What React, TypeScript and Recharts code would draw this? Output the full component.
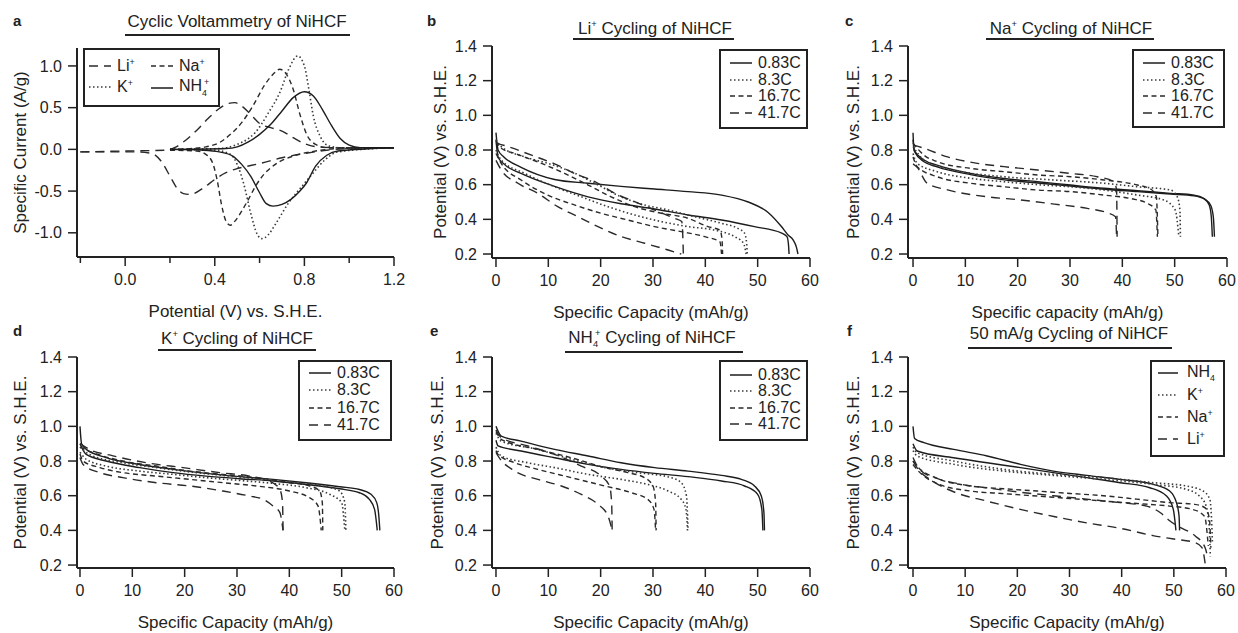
import React from "react";
import { LineChart, Line, XAxis, YAxis, Legend } from "recharts";

type Pt = [number, number];
type DashKey = "solid" | "dot" | "short" | "long";

// ---- a: cyclic voltammetry, [potential V, current A/g], each branch left -> right
const cvLiOx: Pt[] = [[-0.2, -0.03], [0, -0.02], [0.18, -0.01], [0.22, 0.02], [0.27, 0.11], [0.32, 0.23], [0.37, 0.37], [0.42, 0.49], [0.46, 0.55], [0.49, 0.56], [0.52, 0.52], [0.56, 0.42], [0.6, 0.31], [0.65, 0.26], [0.7, 0.22], [0.75, 0.14], [0.8, 0.07], [0.86, 0.03], [0.95, 0.02], [1.2, 0.02]];
const cvLiRed: Pt[] = [[-0.2, -0.03], [0.05, -0.03], [0.12, -0.05], [0.16, -0.14], [0.2, -0.32], [0.23, -0.46], [0.26, -0.53], [0.29, -0.54], [0.35, -0.46], [0.4, -0.36], [0.45, -0.28], [0.5, -0.23], [0.55, -0.2], [0.6, -0.17], [0.7, -0.1], [0.8, -0.05], [0.9, -0.01], [1.0, 0.01], [1.2, 0.02]];
const cvNaOx: Pt[] = [[0.2, 0], [0.3, 0.01], [0.36, 0.03], [0.42, 0.08], [0.47, 0.18], [0.52, 0.32], [0.57, 0.52], [0.62, 0.76], [0.66, 0.9], [0.69, 0.96], [0.72, 0.9], [0.75, 0.72], [0.78, 0.42], [0.81, 0.18], [0.85, 0.06], [0.9, 0.02], [1.2, 0.02]];
const cvNaRed: Pt[] = [[0.2, -0.01], [0.32, -0.02], [0.36, -0.06], [0.39, -0.16], [0.41, -0.36], [0.43, -0.66], [0.45, -0.86], [0.47, -0.91], [0.49, -0.86], [0.52, -0.74], [0.55, -0.6], [0.58, -0.45], [0.61, -0.33], [0.67, -0.18], [0.75, -0.08], [0.85, -0.02], [0.95, 0.01], [1.2, 0.02]];
const cvKOx: Pt[] = [[0.2, 0], [0.42, 0.01], [0.5, 0.06], [0.55, 0.13], [0.58, 0.2], [0.64, 0.44], [0.69, 0.68], [0.73, 0.96], [0.77, 1.12], [0.8, 1.0], [0.82, 0.72], [0.84, 0.4], [0.87, 0.16], [0.91, 0.04], [1.0, 0.01], [1.2, 0.02]];
const cvKRed: Pt[] = [[0.2, 0], [0.4, -0.01], [0.47, -0.06], [0.5, -0.18], [0.53, -0.42], [0.56, -0.76], [0.59, -1.02], [0.61, -1.07], [0.64, -1.02], [0.67, -0.9], [0.73, -0.64], [0.79, -0.44], [0.84, -0.28], [0.89, -0.13], [0.95, -0.03], [1.2, 0.02]];
const cvNh4Ox: Pt[] = [[0.2, 0], [0.45, 0.01], [0.5, 0.03], [0.55, 0.09], [0.6, 0.18], [0.65, 0.3], [0.7, 0.46], [0.75, 0.62], [0.8, 0.69], [0.84, 0.64], [0.88, 0.48], [0.92, 0.29], [0.96, 0.13], [1.0, 0.05], [1.05, 0.02], [1.2, 0.02]];
const cvNh4Red: Pt[] = [[0.2, 0], [0.35, -0.01], [0.42, -0.03], [0.48, -0.08], [0.52, -0.18], [0.56, -0.32], [0.6, -0.52], [0.63, -0.65], [0.66, -0.68], [0.7, -0.66], [0.74, -0.6], [0.78, -0.5], [0.81, -0.4], [0.85, -0.2], [0.9, -0.07], [0.95, -0.02], [1.2, 0.02]];

// ---- b: Li+ cycling, [capacity mAh/g, potential V]
const liC083Up: Pt[] = [[0, 0.9], [0.4, 0.8], [1.5, 0.76], [4.8, 0.7], [11.2, 0.63], [17.6, 0.608], [23.9, 0.59], [30.3, 0.575], [36.7, 0.56], [43.1, 0.54], [48.2, 0.5], [52, 0.44], [54.5, 0.36], [55.8, 0.31], [56.8, 0.28], [57.4, 0.24], [57.7, 0.2]];
const liC083Dn: Pt[] = [[0, 0.86], [0.4, 0.76], [1.5, 0.72], [4.8, 0.665], [11.2, 0.59], [17.6, 0.53], [23.9, 0.49], [30.3, 0.46], [36.7, 0.425], [43.1, 0.396], [49.4, 0.358], [54.5, 0.322], [55.6, 0.3], [55.9, 0.25], [56, 0.2]];
const liC8Up: Pt[] = [[0, 0.86], [1, 0.82], [5.5, 0.76], [9.9, 0.723], [14.4, 0.675], [18.9, 0.608], [23.9, 0.53], [28.4, 0.483], [32.9, 0.454], [38, 0.415], [43.1, 0.377], [46.2, 0.348], [47.5, 0.32], [47.9, 0.26], [48, 0.2]];
const liC8Dn: Pt[] = [[0, 0.8], [1, 0.742], [5.5, 0.665], [11.2, 0.588], [16.3, 0.53], [21.4, 0.473], [26.5, 0.425], [31.6, 0.387], [36.7, 0.358], [41.8, 0.338], [45.6, 0.3], [47.3, 0.262], [47.8, 0.2]];
const liC16Up: Pt[] = [[0, 0.85], [1, 0.81], [3.6, 0.78], [8.7, 0.723], [13.1, 0.665], [17.6, 0.598], [22, 0.53], [26.5, 0.473], [31.6, 0.435], [36.7, 0.406], [40.5, 0.358], [42.8, 0.338], [43.2, 0.28], [43.3, 0.2]];
const liC16Dn: Pt[] = [[0, 0.78], [1, 0.723], [4.8, 0.627], [9.9, 0.54], [15, 0.483], [20.1, 0.435], [25.2, 0.396], [30.3, 0.358], [35.4, 0.329], [39.9, 0.3], [42.8, 0.27], [43.1, 0.2]];
const liC41Up: Pt[] = [[0, 0.84], [2.3, 0.82], [6.8, 0.77], [11.2, 0.72], [15, 0.665], [18.9, 0.617], [22.7, 0.55], [26.5, 0.502], [30.3, 0.454], [34.1, 0.406], [35.5, 0.387], [35.7, 0.3], [35.8, 0.2]];
const liC41Dn: Pt[] = [[0, 0.74], [1, 0.685], [4.2, 0.608], [8, 0.55], [11.8, 0.473], [15.7, 0.415], [19.5, 0.358], [24, 0.3], [28.4, 0.262], [32.9, 0.223], [35.4, 0.2]];

// ---- c: Na+ cycling
const naC083Up: Pt[] = [[0, 0.9], [0.2, 0.8], [2.1, 0.742], [4.6, 0.713], [11, 0.665], [17.4, 0.636], [23.8, 0.617], [30.1, 0.598], [36.5, 0.579], [42.9, 0.565], [49.2, 0.55], [53.7, 0.54], [55.6, 0.52], [56.6, 0.483], [57, 0.415], [57.2, 0.3]];
const naC083Dn: Pt[] = [[0, 0.86], [0.3, 0.79], [2.1, 0.732], [4.6, 0.703], [11, 0.658], [17.4, 0.628], [23.8, 0.61], [30.1, 0.592], [36.5, 0.574], [42.9, 0.56], [49.2, 0.546], [53.7, 0.536], [55.8, 0.515], [56.9, 0.48], [57.4, 0.41], [57.6, 0.3]];
const naC8Up: Pt[] = [[0, 0.82], [2.1, 0.742], [7.8, 0.685], [17.4, 0.646], [27, 0.627], [36.5, 0.608], [42.9, 0.588], [49.2, 0.569], [50.5, 0.53], [51, 0.454], [51.1, 0.3]];
const naC8Dn: Pt[] = [[0, 0.78], [0.8, 0.723], [4.6, 0.675], [11, 0.637], [17.4, 0.617], [23.8, 0.6], [30.1, 0.588], [36.5, 0.569], [42.9, 0.54], [47.9, 0.512], [50.1, 0.454], [50.8, 0.3]];
const naC16Up: Pt[] = [[0, 0.84], [2.1, 0.77], [4.6, 0.733], [11, 0.694], [17.4, 0.675], [23.8, 0.656], [30.1, 0.646], [36.5, 0.627], [42.9, 0.598], [45.4, 0.575], [46.5, 0.53], [46.8, 0.3]];
const naC16Dn: Pt[] = [[0, 0.76], [0.8, 0.704], [4.6, 0.646], [11, 0.608], [17.4, 0.588], [23.8, 0.569], [30.1, 0.56], [36.5, 0.54], [41.6, 0.52], [44.8, 0.492], [46.4, 0.454], [46.7, 0.3]];
const naC41Up: Pt[] = [[0, 0.83], [2.1, 0.81], [6.6, 0.76], [12.3, 0.723], [17.4, 0.704], [23.8, 0.685], [30.1, 0.665], [35.2, 0.646], [38.4, 0.617], [38.9, 0.569], [39, 0.3]];
const naC41Dn: Pt[] = [[0, 0.72], [0.8, 0.7], [2.7, 0.608], [6.6, 0.57], [14.2, 0.53], [20.6, 0.512], [27, 0.488], [33.3, 0.463], [37.1, 0.438], [38.7, 0.415], [38.9, 0.3]];

// ---- d: K+ cycling
const kC083Up: Pt[] = [[0, 1.0], [0.3, 0.9], [1.2, 0.867], [5, 0.82], [11.4, 0.78], [17.8, 0.752], [24.1, 0.729], [30.5, 0.71], [36.9, 0.694], [43.2, 0.675], [49.6, 0.652], [53.4, 0.636], [55.6, 0.608], [56.7, 0.56], [57.1, 0.483], [57.3, 0.4]];
const kC083Dn: Pt[] = [[0, 0.9], [1.2, 0.838], [5, 0.8], [11.4, 0.762], [17.8, 0.733], [24.1, 0.713], [30.5, 0.698], [36.9, 0.685], [43.2, 0.665], [49.6, 0.64], [53.4, 0.617], [55.3, 0.579], [56.3, 0.52], [56.8, 0.4]];
const kC8Up: Pt[] = [[0, 0.88], [1.8, 0.838], [8.2, 0.79], [14.6, 0.762], [21, 0.737], [27.3, 0.717], [33.7, 0.698], [40, 0.679], [46.4, 0.656], [49.6, 0.627], [50.6, 0.56], [50.8, 0.4]];
const kC8Dn: Pt[] = [[0, 0.85], [1.2, 0.81], [5, 0.771], [11.4, 0.742], [17.8, 0.723], [24.1, 0.704], [30.5, 0.688], [36.9, 0.671], [43.2, 0.646], [47.7, 0.608], [50, 0.56], [50.6, 0.4]];
const kC16Up: Pt[] = [[0, 0.88], [2.5, 0.848], [8.2, 0.8], [14.6, 0.771], [21, 0.742], [27.3, 0.723], [33.7, 0.704], [40, 0.675], [43.9, 0.656], [45.8, 0.627], [46.3, 0.56], [46.4, 0.4]];
const kC16Dn: Pt[] = [[0, 0.84], [0.6, 0.8], [3.8, 0.762], [8.2, 0.733], [14.6, 0.713], [21, 0.694], [27.3, 0.675], [33.7, 0.656], [40, 0.627], [43.9, 0.588], [45.5, 0.54], [46.1, 0.4]];
const kC41Up: Pt[] = [[0, 0.9], [1.8, 0.867], [6.3, 0.83], [12.7, 0.79], [19.7, 0.762], [26.7, 0.733], [32.4, 0.713], [36.2, 0.685], [38.2, 0.636], [38.7, 0.56], [38.8, 0.4]];
const kC41Dn: Pt[] = [[0, 0.82], [0.6, 0.78], [3.8, 0.733], [8.2, 0.704], [14.6, 0.675], [21, 0.656], [27.3, 0.627], [32.4, 0.598], [35, 0.579], [36.9, 0.54], [38.2, 0.502], [38.8, 0.4]];

// ---- e: NH4+ cycling
const nhC083Up: Pt[] = [[0, 1.0], [1, 0.944], [4.8, 0.915], [11.2, 0.867], [17.6, 0.829], [23.9, 0.79], [30.3, 0.762], [36.7, 0.742], [43.1, 0.717], [46.9, 0.694], [49.4, 0.656], [50.7, 0.598], [51.2, 0.5], [51.3, 0.4]];
const nhC083Dn: Pt[] = [[0, 0.92], [0.4, 0.887], [4.8, 0.858], [11.2, 0.819], [17.6, 0.781], [23.9, 0.752], [30.3, 0.729], [36.7, 0.71], [43.1, 0.685], [47.5, 0.656], [50, 0.608], [50.8, 0.521], [51, 0.4]];
const nhC8Up: Pt[] = [[0, 0.96], [1, 0.915], [8, 0.867], [14.4, 0.81], [20.8, 0.762], [27.1, 0.733], [33.5, 0.704], [35.4, 0.675], [36.4, 0.598], [36.7, 0.4]];
const nhC8Dn: Pt[] = [[0, 0.88], [1, 0.829], [6.1, 0.79], [11.2, 0.762], [17.6, 0.723], [23.9, 0.694], [29, 0.665], [32.9, 0.627], [35.4, 0.579], [36.3, 0.521], [36.6, 0.4]];
const nhC16Up: Pt[] = [[0, 0.97], [1, 0.925], [8, 0.867], [14.4, 0.819], [20.8, 0.762], [25.2, 0.733], [28.4, 0.704], [30, 0.656], [30.5, 0.56], [30.6, 0.4]];
const nhC16Dn: Pt[] = [[0, 0.86], [0.4, 0.838], [3.6, 0.79], [8, 0.752], [14.4, 0.704], [20.8, 0.656], [25.9, 0.617], [29, 0.579], [30.2, 0.521], [30.5, 0.4]];
const nhC41Up: Pt[] = [[0, 0.98], [1, 0.935], [6.1, 0.887], [11.2, 0.838], [16.3, 0.771], [20.1, 0.713], [21.7, 0.656], [22.1, 0.56], [22.2, 0.4]];
const nhC41Dn: Pt[] = [[0, 0.85], [0.4, 0.829], [3.6, 0.742], [8, 0.694], [12.5, 0.656], [16.3, 0.608], [19.5, 0.55], [21.4, 0.483], [22.2, 0.4]];

// ---- f: 50 mA/g cycling, by ion
const fNh4Up: Pt[] = [[0, 1.0], [0.3, 0.93], [2.1, 0.906], [7.8, 0.867], [14.2, 0.829], [20.6, 0.781], [26.9, 0.742], [33.3, 0.717], [39.7, 0.694], [46.1, 0.665], [49.2, 0.627], [50.5, 0.56], [51, 0.483], [51.1, 0.4]];
const fNh4Dn: Pt[] = [[0, 0.9], [0.8, 0.858], [7.8, 0.819], [14.2, 0.79], [20.6, 0.762], [26.9, 0.733], [33.3, 0.704], [39.7, 0.675], [45.4, 0.646], [48.6, 0.598], [49.9, 0.521], [50.4, 0.4]];
const fKUp: Pt[] = [[0, 0.88], [0.8, 0.848], [7.8, 0.8], [17.4, 0.752], [26.9, 0.723], [36.5, 0.704], [46.1, 0.675], [52.4, 0.656], [55.6, 0.627], [56.9, 0.579], [57.2, 0.483], [57.4, 0.33]];
const fKDn: Pt[] = [[0, 0.86], [0.8, 0.829], [7.8, 0.781], [17.4, 0.742], [26.9, 0.717], [36.5, 0.694], [46.1, 0.665], [52.4, 0.637], [54.9, 0.598], [56.2, 0.54], [56.8, 0.406], [57, 0.25]];
const fNaUp: Pt[] = [[0, 0.8], [0.8, 0.77], [4.6, 0.7], [11, 0.656], [17.4, 0.64], [23.8, 0.627], [30.1, 0.613], [36.5, 0.6], [42.9, 0.58], [49.2, 0.56], [54, 0.55], [56, 0.53], [56.8, 0.47], [57.1, 0.3]];
const fNaDn: Pt[] = [[0, 0.78], [0.8, 0.75], [4.6, 0.67], [11, 0.627], [17.4, 0.612], [23.8, 0.598], [30.1, 0.584], [36.5, 0.569], [42.9, 0.555], [49.2, 0.54], [53.7, 0.52], [55.9, 0.48], [56.6, 0.31]];
const fLiUp: Pt[] = [[0, 0.82], [1.3, 0.75], [4.6, 0.7], [8.5, 0.67], [14.2, 0.645], [20.6, 0.62], [26.9, 0.6], [33.3, 0.58], [39.7, 0.56], [44.8, 0.54], [47.5, 0.5], [49, 0.46], [51, 0.42], [54, 0.37], [56, 0.3], [56.5, 0.24]];
const fLiDn: Pt[] = [[0, 0.8], [0.8, 0.76], [4, 0.68], [8, 0.62], [14, 0.57], [20, 0.525], [27, 0.48], [33, 0.445], [40, 0.41], [46, 0.37], [50, 0.35], [54, 0.33], [55.4, 0.3], [56, 0.21]];

// ---- ticks
const cvXTicks = [-0.2, 0, 0.2, 0.4, 0.6, 0.8, 1.0, 1.2];
const cvXMajor = [0, 0.4, 0.8, 1.2];
const cvYTicks = [-1, -0.5, 0, 0.5, 1];
const capTicks = [0, 10, 20, 30, 40, 50, 60];
const potTicks = [0.2, 0.4, 0.6, 0.8, 1.0, 1.2, 1.4];

const FONT = '"Liberation Sans", Arial, Helvetica, sans-serif';
const INK = "#222";
const DASH: Record<DashKey, string | undefined> = { solid: undefined, dot: "1.5 2.5", short: "5 3.5", long: "9 6" };
const STROKE: Record<DashKey, string> = { solid: "#1c1c1c", dot: "#3a3a3a", short: "#2a2a2a", long: "#2a2a2a" };
const TICK = 9;
const XGAP = 8;

const Li = <>Li<sup style={{ fontSize: "0.55em" }}>+</sup></>;
const Na = <>Na<sup style={{ fontSize: "0.55em" }}>+</sup></>;
const K = <>K<sup style={{ fontSize: "0.55em" }}>+</sup></>;
const NH4 = <>NH<sub style={{ fontSize: "0.55em" }}>4</sub><sup style={{ fontSize: "0.55em", marginLeft: -3 }}>+</sup></>;

interface Item { label: React.ReactNode; dash: DashKey }
interface LegendCfg {
  left: number; top: number; width: number; height: number;
  rows: Item[][]; rowH: number; padTop: number;
  sampleX: number; sampleW: number; textX: number; colW?: number;
}
interface Series { pts: Pt[]; dash: DashKey }
interface PanelCfg {
  box: { left: number; top: number; width: number; height: number };
  margin: { top: number; right: number; bottom: number; left: number };
  xDomain: [number, number]; yDomain: [number, number];
  xTicks: number[]; yTicks: number[];
  xFmt: (v: number) => string;
  xLabel: string; yLabel: string; yLabelOffset: number;
  cvTicks?: boolean;
  lines: Series[];
  legend: LegendCfg;
}

const rates: Item[][] = [
  [{ label: "0.83C", dash: "solid" }], [{ label: "8.3C", dash: "dot" }],
  [{ label: "16.7C", dash: "short" }], [{ label: "41.7C", dash: "long" }],
];

const rateLines = (s: Pt[][]): Series[] => {
  const d: DashKey[] = ["solid", "solid", "dot", "dot", "short", "short", "long", "long"];
  return s.map((pts, i) => ({ pts, dash: d[i] }));
};

const CvTick = (props: any) => {
  const { x, y, payload } = props;
  const v = payload.value as number;
  const major = cvXMajor.some((m) => Math.abs(m - v) < 1e-6);
  const axisY = y - TICK - XGAP;
  return (
    <g>
      <line x1={x} x2={x} y1={axisY} y2={axisY + (major ? TICK : 6)} stroke={INK} strokeWidth={1.5} />
      {major && (
        <text x={x} y={y} dy="0.71em" textAnchor="middle" fontSize={16} fill={INK}>
          {v.toFixed(1)}
        </text>
      )}
    </g>
  );
};

const LegendBox = ({ cfg }: { cfg: LegendCfg }) => (
  <div
    style={{
      width: cfg.width, height: cfg.height, boxSizing: "border-box", border: `2px solid ${INK}`,
      background: "#fff", paddingTop: cfg.padTop, fontSize: 16, color: INK, fontFamily: FONT,
    }}
  >
    {cfg.rows.map((row, r) => (
      <div key={r} style={{ display: "flex", height: cfg.rowH, alignItems: "center", lineHeight: 1 }}>
        {row.map((it, c) => (
          <div key={c} style={{ display: "flex", alignItems: "center", width: cfg.colW, whiteSpace: "nowrap" }}>
            <div style={{ width: cfg.sampleX - 2, flex: "none" }} />
            <svg width={cfg.sampleW} height={4} style={{ flex: "none" }}>
              <line x1={0} x2={cfg.sampleW} y1={2} y2={2} stroke={STROKE[it.dash]} strokeWidth={1.5} strokeDasharray={DASH[it.dash]} />
            </svg>
            <div style={{ width: cfg.textX - cfg.sampleX - cfg.sampleW, flex: "none" }} />
            <span>{it.label}</span>
          </div>
        ))}
      </div>
    ))}
  </div>
);

const Panel = ({ cfg }: { cfg: PanelCfg }) => (
  <div style={{ position: "absolute", left: cfg.box.left, top: cfg.box.top }}>
    <LineChart width={cfg.box.width} height={cfg.box.height} margin={cfg.margin}>
      <XAxis
        type="number" dataKey="x" domain={cfg.xDomain} allowDataOverflow ticks={cfg.xTicks} interval={0}
        height={62} tickSize={TICK} tickMargin={XGAP}
        axisLine={{ stroke: INK, strokeWidth: 2 }}
        tickLine={cfg.cvTicks ? false : { stroke: INK, strokeWidth: 1.5 }}
        tick={cfg.cvTicks ? <CvTick /> : { fill: INK, fontSize: 16 }}
        tickFormatter={cfg.xFmt}
        label={{ value: cfg.xLabel, position: "insideBottom", offset: 2, fill: INK, fontSize: 17 }}
      />
      <YAxis
        type="number" domain={cfg.yDomain} allowDataOverflow ticks={cfg.yTicks} interval={0}
        width={70} tickSize={TICK} tickMargin={6}
        axisLine={{ stroke: INK, strokeWidth: 2 }}
        tickLine={{ stroke: INK, strokeWidth: 1.5 }}
        tick={{ fill: INK, fontSize: 16 }}
        tickFormatter={(v: number) => v.toFixed(1)}
        label={{
          value: cfg.yLabel, angle: -90, position: "insideLeft", offset: cfg.yLabelOffset,
          textAnchor: "middle", style: { textAnchor: "middle" }, fill: INK, fontSize: 17,
        }}
      />
      {cfg.lines.map((s, i) => (
        <Line
          key={i}
          data={s.pts.map(([x, y]) => ({ x, y }))}
          dataKey="y"
          type="monotone"
          stroke={STROKE[s.dash]}
          strokeWidth={s.dash === "dot" ? 1.6 : 1.4}
          strokeDasharray={DASH[s.dash]}
          dot={false}
          activeDot={false}
          legendType="none"
          isAnimationActive={false}
        />
      ))}
      <Legend
        layout="horizontal" verticalAlign="middle" align="center"
        wrapperStyle={{ left: cfg.legend.left, top: cfg.legend.top, width: cfg.legend.width, height: cfg.legend.height }}
        content={() => <LegendBox cfg={cfg.legend} />}
      />
    </LineChart>
  </div>
);

const capFmt = (v: number) => String(v);
const rateLegend = (left: number, top: number, width: number, height: number, rowH: number, padTop: number): LegendCfg => ({
  left, top, width, height, rows: rates, rowH, padTop, sampleX: 11, sampleW: 22, textX: 39,
});

const PANELS: PanelCfg[] = [
  {
    box: { left: 0, top: 0, width: 410, height: 330 },
    margin: { top: 48, right: 16, bottom: 11, left: 7 },
    xDomain: [-0.215, 1.2], yDomain: [-1.29, 1.215], xTicks: cvXTicks, yTicks: cvYTicks,
    xFmt: (v) => v.toFixed(1), cvTicks: true,
    xLabel: "Potential (V) vs. S.H.E.", yLabel: "Specific Current (A/g)", yLabelOffset: 13,
    lines: [
      { pts: cvLiOx, dash: "long" }, { pts: cvLiRed, dash: "long" },
      { pts: cvNaOx, dash: "short" }, { pts: cvNaRed, dash: "short" },
      { pts: cvKOx, dash: "dot" }, { pts: cvKRed, dash: "dot" },
      { pts: cvNh4Ox, dash: "solid" }, { pts: cvNh4Red, dash: "solid" },
    ],
    legend: {
      left: 83, top: 48, width: 137, height: 59, rowH: 21, padTop: 6,
      rows: [
        [{ label: Li, dash: "long" }, { label: Na, dash: "short" }],
        [{ label: K, dash: "dot" }, { label: NH4, dash: "solid" }],
      ],
      sampleX: 6, sampleW: 22, textX: 34, colW: 62,
    },
  },
  {
    box: { left: 410, top: 0, width: 420, height: 330 },
    margin: { top: 46, right: 20, bottom: 10, left: 12 },
    xDomain: [-0.76, 60], yDomain: [0.177, 1.4], xTicks: capTicks, yTicks: potTicks, xFmt: capFmt,
    xLabel: "Specific Capacity (mAh/g)", yLabel: "Potential (V) vs. S.H.E.", yLabelOffset: 18,
    lines: rateLines([liC083Up, liC083Dn, liC8Up, liC8Dn, liC16Up, liC16Dn, liC41Up, liC41Dn]),
    legend: rateLegend(309, 49, 89, 80, 16.7, 3.5),
  },
  {
    box: { left: 830, top: 0, width: 408, height: 330 },
    margin: { top: 46, right: 11, bottom: 10, left: 8 },
    xDomain: [-0.96, 60], yDomain: [0.177, 1.4], xTicks: capTicks, yTicks: potTicks, xFmt: capFmt,
    xLabel: "Specific capacity (mAh/g)", yLabel: "Potential (V) vs. S.H.E.", yLabelOffset: 15,
    lines: rateLines([naC083Up, naC083Dn, naC8Up, naC8Dn, naC16Up, naC16Dn, naC41Up, naC41Dn]),
    legend: rateLegend(302, 49, 93, 79, 16.7, 3.5),
  },
  {
    box: { left: 0, top: 310, width: 410, height: 323 },
    margin: { top: 47, right: 16, bottom: 3, left: 7 },
    xDomain: [-0.57, 60], yDomain: [0.183, 1.4], xTicks: capTicks, yTicks: potTicks, xFmt: capFmt,
    xLabel: "Specific Capacity (mAh/g)", yLabel: "Potential (V) vs. S.H.E.", yLabelOffset: 13,
    lines: rateLines([kC083Up, kC083Dn, kC8Up, kC8Dn, kC16Up, kC16Dn, kC41Up, kC41Dn]),
    legend: rateLegend(298, 50, 94, 81, 17.3, 2.5),
  },
  {
    box: { left: 410, top: 310, width: 420, height: 323 },
    margin: { top: 47, right: 20, bottom: 3, left: 12 },
    xDomain: [-0.76, 60], yDomain: [0.183, 1.4], xTicks: capTicks, yTicks: potTicks, xFmt: capFmt,
    xLabel: "Specific Capacity (mAh/g)", yLabel: "Potential (V) vs. S.H.E.", yLabelOffset: 15,
    lines: rateLines([nhC083Up, nhC083Dn, nhC8Up, nhC8Dn, nhC16Up, nhC16Dn, nhC41Up, nhC41Dn]),
    legend: rateLegend(309, 50, 89, 81, 16.5, 4.5),
  },
  {
    box: { left: 830, top: 310, width: 408, height: 323 },
    margin: { top: 47, right: 12, bottom: 3, left: 8 },
    xDomain: [-0.96, 60], yDomain: [0.183, 1.4], xTicks: capTicks, yTicks: potTicks, xFmt: capFmt,
    xLabel: "Specific Capacity (mAh/g)", yLabel: "Potential (V) vs. S.H.E.", yLabelOffset: 15,
    lines: rateLines([fNh4Up, fNh4Dn, fKUp, fKDn, fNaUp, fNaDn, fLiUp, fLiDn]),
    legend: {
      left: 320, top: 50, width: 75, height: 97, rowH: 22, padTop: 0,
      rows: [
        [{ label: <>NH<sub style={{ fontSize: "0.55em" }}>4</sub></>, dash: "solid" }],
        [{ label: K, dash: "dot" }],
        [{ label: Na, dash: "short" }],
        [{ label: Li, dash: "long" }],
      ],
      sampleX: 8, sampleW: 20, textX: 37,
    },
  },
];

// panel letters and underlined titles (page coordinates)
const HEADS = [
  { letter: "a", lx: 13, ly: 25, title: <>Cyclic Voltammetry of NiHCF</>, cx: 237, cy: 21.5, ul: [125, 350, 35] },
  { letter: "b", lx: 427, ly: 25, title: <>{Li} Cycling of NiHCF</>, cx: 655, cy: 23.5, ul: [573, 734, 39] },
  { letter: "c", lx: 845, ly: 25, title: <>{Na} Cycling of NiHCF</>, cx: 1071, cy: 23.5, ul: [986, 1154, 39] },
  { letter: "d", lx: 13, ly: 335, title: <>{K} Cycling of NiHCF</>, cx: 237, cy: 333.5, ul: [158, 316, 350] },
  { letter: "e", lx: 430, ly: 335, title: <>{NH4} Cycling of NiHCF</>, cx: 652, cy: 332.5, ul: [565, 743, 352] },
  { letter: "f", lx: 847, ly: 335, title: <>50 mA/g Cycling of NiHCF</>, cx: 1069, cy: 333.5, ul: [968, 1172, 348] },
];

export default function App() {
  return (
    <div
      style={{
        position: "absolute", left: 0, top: 0, width: 1238, height: 633, overflow: "hidden",
        background: "#fff", fontFamily: FONT, color: INK,
      }}
    >
      {PANELS.map((p, i) => (
        <Panel key={i} cfg={p} />
      ))}
      {HEADS.map((h) => (
        <React.Fragment key={h.letter}>
          <div style={{ position: "absolute", left: h.lx, top: h.ly - 12.5, fontSize: 15, fontWeight: "bold", lineHeight: "15px" }}>
            {h.letter}
          </div>
          <div
            style={{
              position: "absolute", left: h.cx - 160, width: 320, top: h.cy - 10, lineHeight: "20px",
              fontSize: 17, textAlign: "center", whiteSpace: "nowrap",
            }}
          >
            {h.title}
          </div>
          <div style={{ position: "absolute", left: h.ul[0], width: h.ul[1] - h.ul[0], top: h.ul[2] - 1, height: 2, background: INK }} />
        </React.Fragment>
      ))}
    </div>
  );
}
